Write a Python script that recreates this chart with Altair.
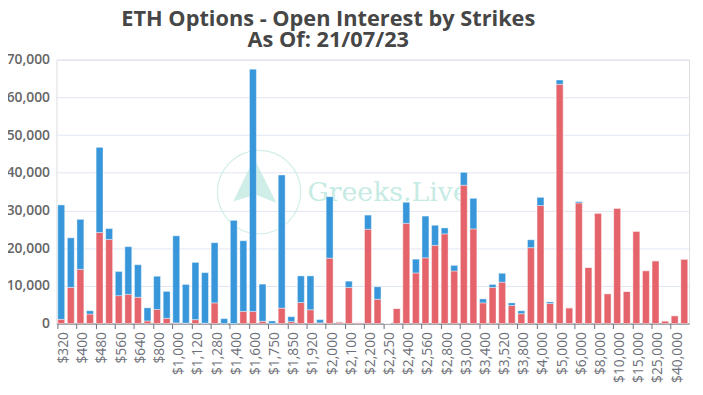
import altair as alt
import pandas as pd

strikes = ["$320", "$360", "$400", "$440", "$480", "$520", "$560", "$600", "$640", "$720",
           "$800", "$900", "$1,000", "$1,100", "$1,120", "$1,200", "$1,280", "$1,300", "$1,400", "$1,500",
           "$1,600", "$1,700", "$1,750", "$1,800", "$1,850", "$1,900", "$1,920", "$1,950", "$2,000", "$2,050",
           "$2,100", "$2,150", "$2,200", "$2,240", "$2,250", "$2,300", "$2,400", "$2,500", "$2,560", "$2,600",
           "$2,800", "$2,900", "$3,000", "$3,200", "$3,400", "$3,500", "$3,520", "$3,600", "$3,800", "$3,900",
           "$4,000", "$4,500", "$5,000", "$5,500", "$6,000", "$7,000", "$8,000", "$9,000", "$10,000", "$12,000",
           "$15,000", "$20,000", "$25,000", "$30,000", "$40,000", "$50,000"]

calls = [1130, 9590, 14390, 2530, 24150, 22320, 7410, 7760, 6970, 700,
         3750, 1400, 170, 100, 1050, 100, 5490, 0, 0, 3230,
         3230, 610, 0, 4100, 520, 5580, 3660, 170, 17350, 400,
         9590, 260, 25020, 6450, 0, 4010, 26590, 13430, 17440, 20750,
         23800, 13950, 36700, 25110, 5490, 9590, 10990, 4800, 2620, 20140,
         31300, 5320, 63470, 4180, 32000, 14910, 29290, 7930, 30600, 8540,
         24500, 14040, 16650, 700, 2090, 17090]

puts = [30340, 13160, 13250, 870, 22580, 2880, 6370, 12640, 8640, 3480,
        8800, 7140, 23110, 10270, 15170, 13410, 15960, 1310, 27380, 18740,
        64250, 9850, 700, 35310, 1310, 7060, 8980, 880, 16300, 40,
        1660, 0, 3750, 3310, 0, 0, 5580, 3660, 11070, 5320,
        1570, 1480, 3400, 8110, 1050, 780, 2350, 690, 780, 2090,
        2180, 430, 1130, 0, 350, 0, 0, 0, 0, 0,
        0, 0, 0, 0, 0, 0]

y_ticks = [0, 10000, 20000, 30000, 40000, 50000, 60000, 70000]

rows = []
for s, c, p in zip(strikes, calls, puts):
    rows.append({"strike": s, "type": "Calls", "oi": c, "ord": 0})
    rows.append({"strike": s, "type": "Puts", "oi": p, "ord": 1})
df = pd.DataFrame(rows)

tick_values = strikes[::2]

bars = alt.Chart(df).mark_bar(stroke="white", strokeWidth=0.4).encode(
    x=alt.X("strike:N", sort=strikes, title=None,
            scale=alt.Scale(paddingInner=0.28, paddingOuter=0.14),
            axis=alt.Axis(values=tick_values, labelAngle=270, labelAlign="right", labelBaseline="middle",
                          labelFontSize=14, labelColor="#6E7079", labelFont="Open Sans", labelFontWeight=500,
                          tickSize=5, tickColor="#6E7079", domainColor="#6E7079", labelPadding=3,
                          bandPosition=0, labelOffset=3, grid=False, labelOverlap=False)),
    y=alt.Y("oi:Q", stack="zero", title=None,
            scale=alt.Scale(domain=[0, 70000], nice=False),
            axis=alt.Axis(values=y_ticks, labelExpr="format(datum.value, ',')",
                          labelFontSize=14, labelColor="#666666", labelFont="Open Sans", labelFontWeight=600,
                          domain=False, ticks=False, gridColor="#E0E6F1", labelPadding=7)),
    color=alt.Color("type:N", scale=alt.Scale(domain=["Calls", "Puts"], range=["#E5636A", "#3797DA"]),
                    legend=None),
    order=alt.Order("ord:Q"),
)

wm_df = pd.DataFrame({"t": ["Greeks.Live"]})
wm_circle = alt.Chart(wm_df).mark_point(shape="circle", filled=False, stroke="#BFE8E0", strokeWidth=1.2).encode(
    x=alt.value(205), y=alt.value(134), size=alt.value(7100))
wm_sail = alt.Chart(wm_df).mark_point(
    shape="M0,-1L0.8,0.6L0.05,0.3L-0.75,0.55Z", filled=True, fill="#BFE8E0", opacity=0.75, strokeWidth=0).encode(
    x=alt.value(200), y=alt.value(128), size=alt.value(3200))
wm_text = alt.Chart(wm_df).mark_text(align="left", baseline="alphabetic", font="DejaVu Serif",
                                     fontSize=27, color="#C6EBE4").encode(
    x=alt.value(254), y=alt.value(143), text="t:N")

chart = alt.layer(wm_circle, wm_sail, wm_text, bars).properties(
    width=640, height=267,
    padding={"left": 49, "top": 50, "right": 6, "bottom": 70},
    autosize=alt.AutoSizeParams(type="none"),
    title=alt.TitleParams(text=["ETH Options - Open Interest by Strikes", "As Of: 21/07/23"],
                          anchor="middle", dx=-45, fontSize=22, lineHeight=21, font="Open Sans",
                          fontWeight="bold", color="#464646", offset=1),
).configure_view(stroke=None).configure(background="white")

chart.save("out.html", embed_options={"renderer": "svg", "actions": False})
